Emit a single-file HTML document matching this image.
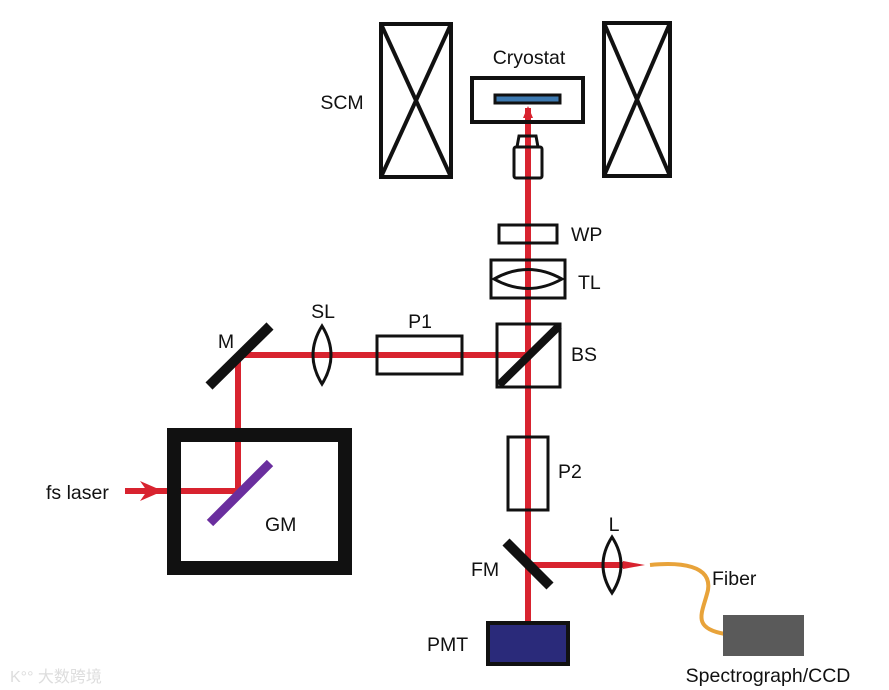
<!DOCTYPE html>
<html><head><meta charset="utf-8"><style>
html,body{margin:0;padding:0;background:#fff;width:889px;height:690px;overflow:hidden}
svg text{font-family:"Liberation Sans",Arial,sans-serif;font-size:19.5px;fill:#111}
</style></head><body>
<svg width="889" height="690" viewBox="0 0 889 690" xmlns="http://www.w3.org/2000/svg">
<g stroke="#d8232f" stroke-width="6" fill="none">
<line x1="528" y1="108" x2="528" y2="622"/>
<line x1="238" y1="355" x2="528" y2="355"/>
<line x1="238" y1="355" x2="238" y2="491"/>
<line x1="125" y1="491" x2="238" y2="491"/>
<line x1="528" y1="565" x2="625" y2="565"/>
</g>
<polygon points="623,561 645,565 623,569" fill="#d8232f"/>
<polygon points="523,118 528,106 533,118" fill="#d8232f"/>
<polygon points="140,481 163,491 140,501 147,491" fill="#d8232f"/>
<g stroke="#111" stroke-width="4" fill="none">
<rect x="381" y="24" width="70" height="153"/>
<line x1="381" y1="24" x2="451" y2="177"/><line x1="451" y1="24" x2="381" y2="177"/>
<rect x="604" y="23" width="66" height="153"/>
<line x1="604" y1="23" x2="670" y2="176"/><line x1="670" y1="23" x2="604" y2="176"/>
<rect x="472" y="78" width="111" height="44"/>
</g>
<rect x="495" y="95" width="65" height="8" fill="#3d79b0" stroke="#111" stroke-width="3"/>
<g stroke="#111" stroke-width="3" fill="none">
<path d="M517,147 L519,136 L536,136 L538,147"/>
<rect x="514" y="147" width="28" height="31" rx="2"/>
<rect x="499" y="225" width="58" height="18"/>
<rect x="491" y="260" width="74" height="38"/>
<path d="M494,279 Q528,260 562,279 Q528,298 494,279 Z"/>
<rect x="377" y="336" width="85" height="38"/>
<rect x="497" y="324" width="63" height="63"/>
<rect x="508" y="437" width="40" height="73"/>
<path d="M322,326 Q340,355 322,384 Q304,355 322,326 Z"/>
<path d="M612,537 Q630,565 612,593 Q594,565 612,537 Z"/>
</g>
<line x1="499" y1="385" x2="559" y2="326" stroke="#111" stroke-width="8"/>
<line x1="209" y1="386" x2="270" y2="326" stroke="#111" stroke-width="10"/>
<line x1="506" y1="542" x2="550" y2="586" stroke="#111" stroke-width="10"/>
<rect x="174" y="435" width="171" height="133" fill="none" stroke="#111" stroke-width="14"/>
<line x1="210" y1="523" x2="270" y2="463" stroke="#6a2e9e" stroke-width="9"/>
<rect x="488" y="623" width="80" height="41" fill="#2a2a7a" stroke="#111" stroke-width="4"/>
<path d="M650,565 C680,562 712,565 708,590 C703,612 690,628 725,634" stroke="#e8a33a" stroke-width="4" fill="none"/>
<rect x="723" y="615" width="81" height="41" fill="#5a5a5a"/>
<text x="342" y="109" text-anchor="middle">SCM</text>
<text x="529" y="64" text-anchor="middle">Cryostat</text>
<text x="571" y="241">WP</text>
<text x="578" y="289">TL</text>
<text x="420" y="328" text-anchor="middle">P1</text>
<text x="323" y="318" text-anchor="middle">SL</text>
<text x="226" y="348" text-anchor="middle">M</text>
<text x="571" y="361">BS</text>
<text x="558" y="478">P2</text>
<text x="614" y="531" text-anchor="middle">L</text>
<text x="471" y="576">FM</text>
<text x="712" y="585">Fiber</text>
<text x="427" y="651">PMT</text>
<text x="768" y="682" text-anchor="middle">Spectrograph/CCD</text>
<text x="265" y="531">GM</text>
<text x="46" y="499">fs laser</text>
<text x="10" y="682" style="fill:#ddd;font-size:16px;font-family:'Liberation Sans','Noto Sans CJK SC',sans-serif">K°° 大数跨境</text>
</svg>
</body></html>
